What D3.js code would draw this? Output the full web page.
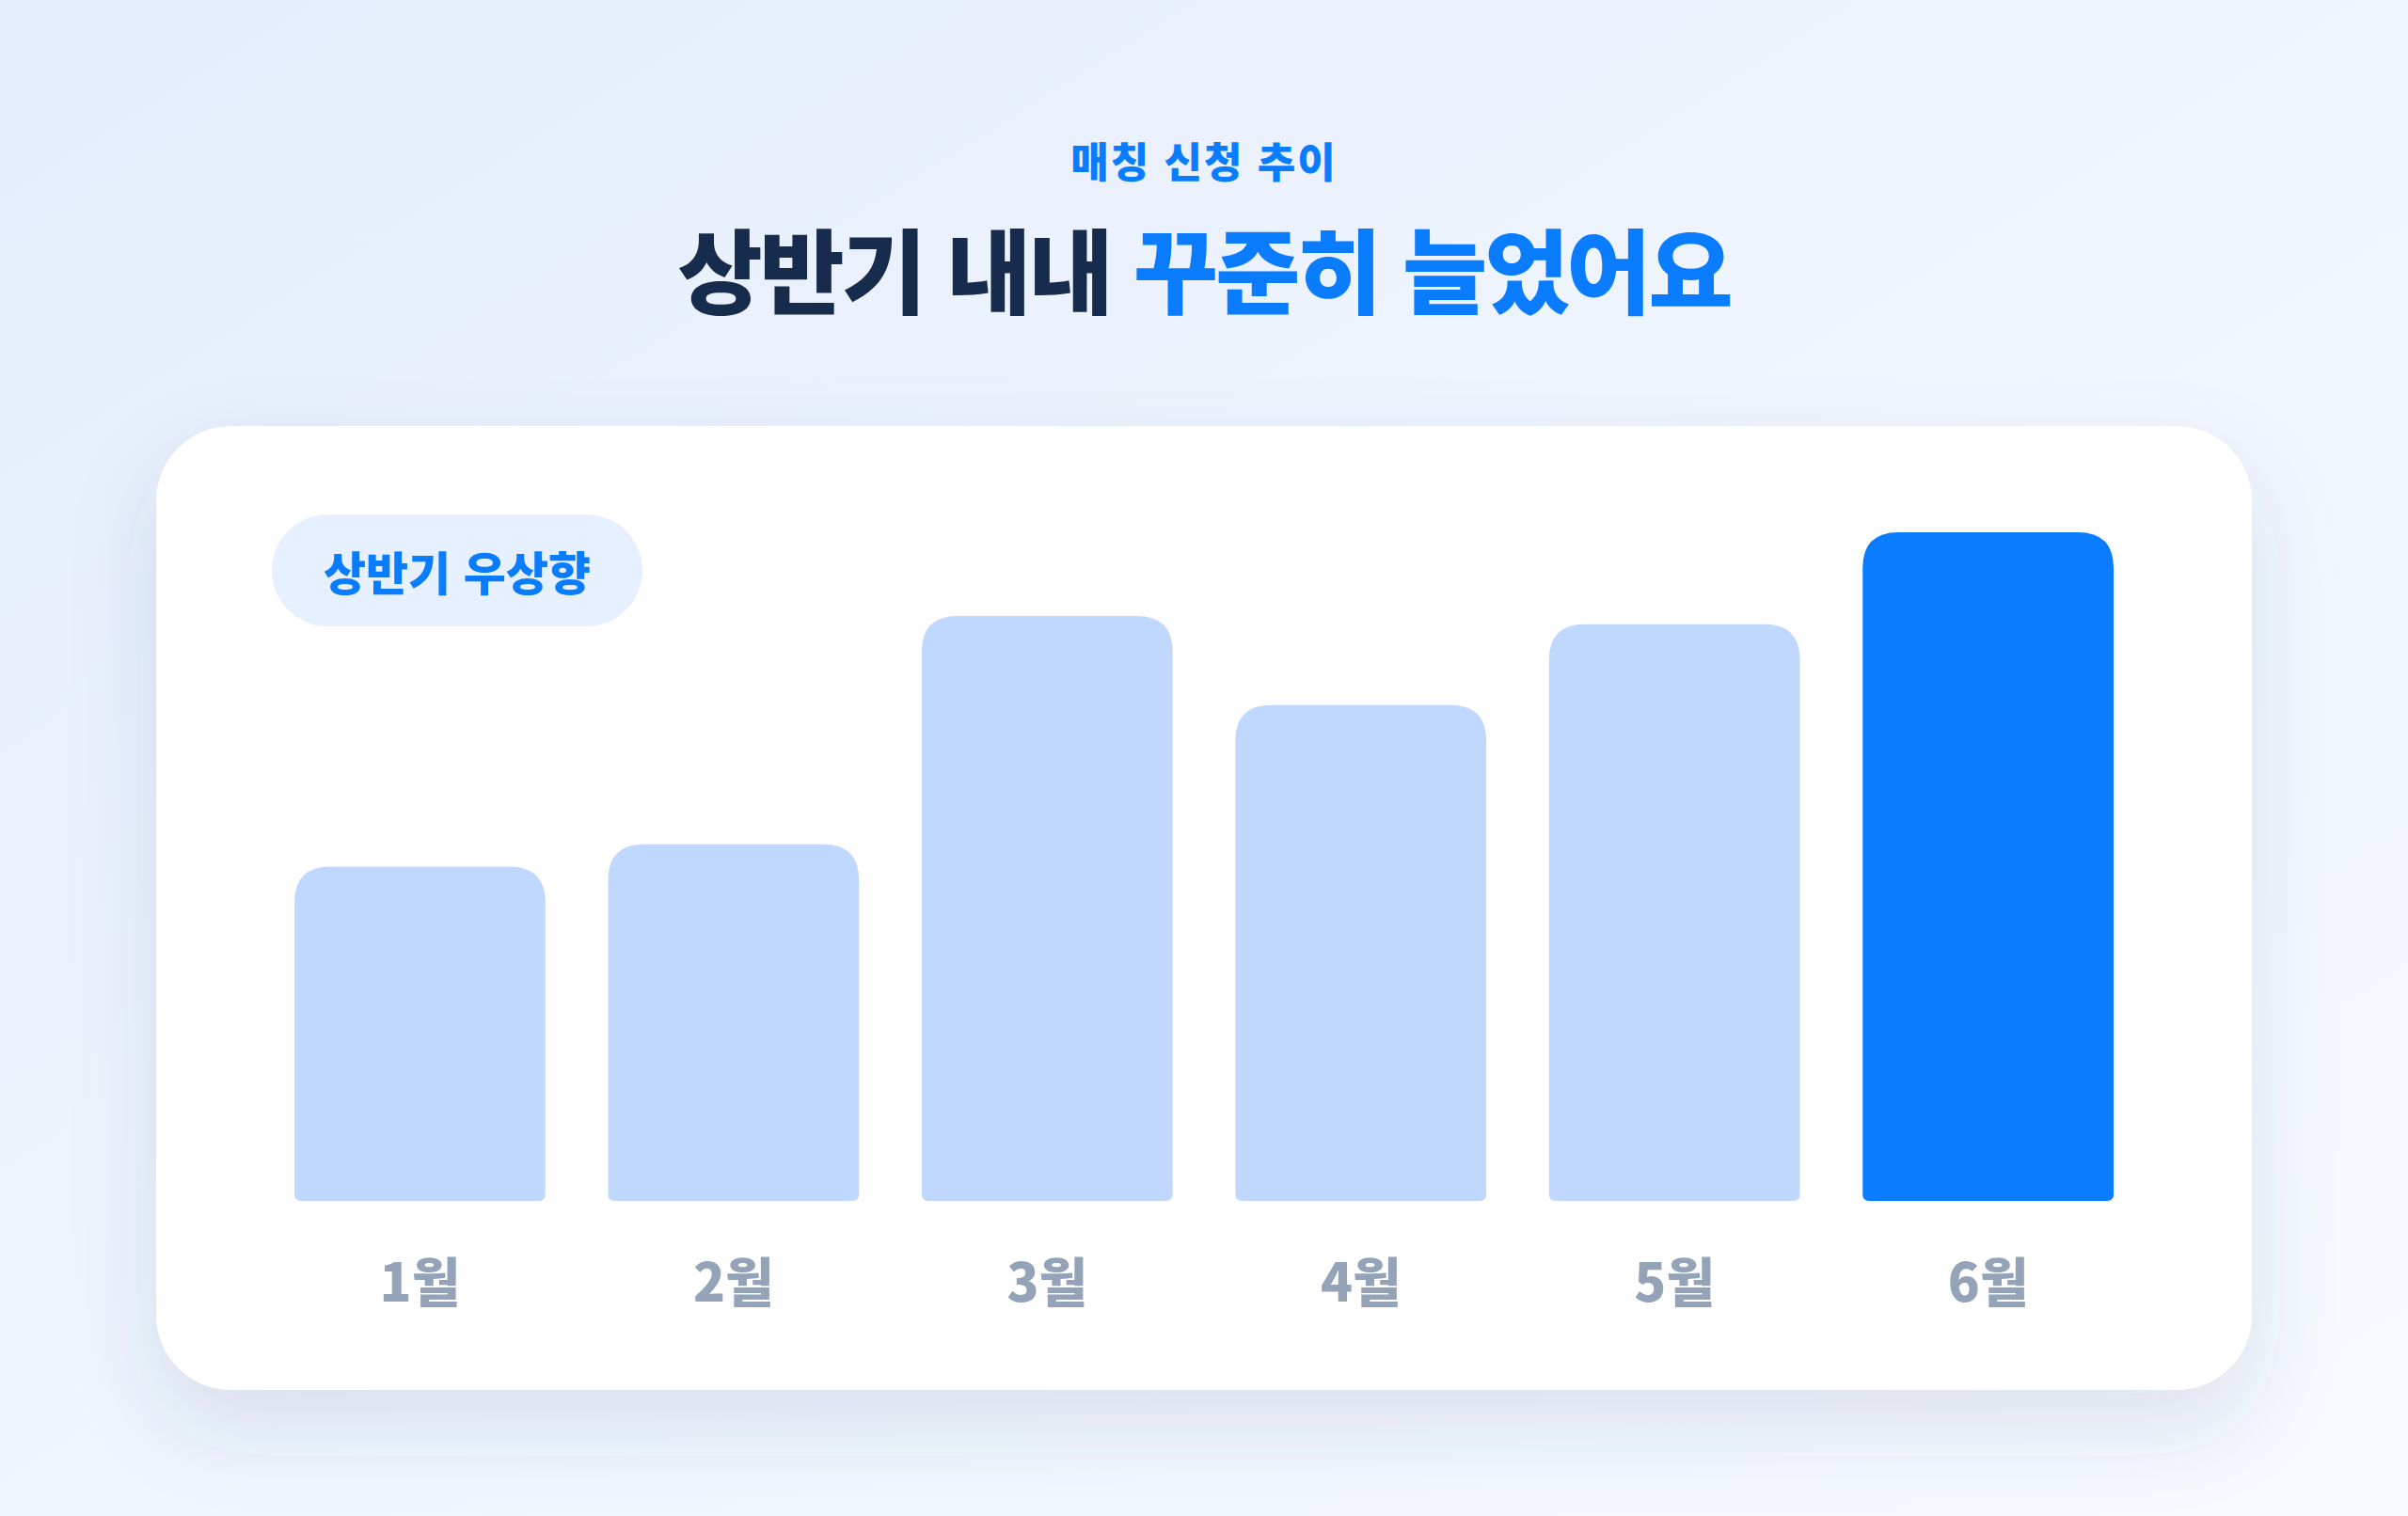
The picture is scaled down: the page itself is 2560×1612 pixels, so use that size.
<!DOCTYPE html>
<html lang="ko">
<head>
<meta charset="utf-8">
<script src="https://cdn.jsdelivr.net/npm/d3@7"></script>
<style>
  html, body { margin: 0; padding: 0; background: #f2f6fd; }
  svg { display: block; font-family: "Noto Sans CJK KR", "Noto Sans", sans-serif; }
</style>
</head>
<body>
<div id="chart"></div>
<script>
// data
const months = ["1월", "2월", "3월", "4월", "5월", "6월"]
const applications = [120, 128, 210, 178, 207, 240]
const highlightMonth = "6월"
const eyebrow = "매칭 신청 추이"
const titleDark = "상반기 내내 "
const titleBlue = "꾸준히 늘었어요"
const badgeText = "상반기 우상향"

const W = 2560, H = 1612
const card = {x: 166, y: 453, w: 2228, h: 1025, r: 80}
const plot = {left: 313, right: 2247, top: 566, bottom: 1277}

const svg = d3.select("#chart").append("svg")
  .attr("width", W)
  .attr("height", H)

const defs = svg.append("defs")

// background gradient
const bg = defs.append("linearGradient")
  .attr("id", "bg")
  .attr("x1", "0").attr("y1", "0").attr("x2", "1").attr("y2", "1")
bg.append("stop").attr("offset", "0").attr("stop-color", "#e4edfc")
bg.append("stop").attr("offset", "0.55").attr("stop-color", "#f1f6fe")
bg.append("stop").attr("offset", "1").attr("stop-color", "#f7fafe")

const shadow = defs.append("filter")
  .attr("id", "shadow")
  .attr("x", "-20%").attr("y", "-20%").attr("width", "140%").attr("height", "150%")
shadow.append("feDropShadow")
  .attr("dx", 0).attr("dy", 40)
  .attr("stdDeviation", 45)
  .attr("flood-color", "#2a4a80")
  .attr("flood-opacity", 0.13)

svg.append("rect")
  .attr("width", W).attr("height", H)
  .attr("fill", "url(#bg)")

// headings
svg.append("text")
  .attr("x", W / 2).attr("y", 170)
  .attr("text-anchor", "middle")
  .attr("dominant-baseline", "central")
  .attr("font-size", 44)
  .attr("font-weight", 800)
  .attr("letter-spacing", 2)
  .attr("fill", "#0a7cff")
  .text(eyebrow)

const title = svg.append("text")
  .attr("x", W / 2).attr("y", 283)
  .attr("text-anchor", "middle")
  .attr("dominant-baseline", "central")
  .attr("font-size", 98)
  .attr("font-weight", 900)
  .attr("letter-spacing", -3)
title.append("tspan").attr("fill", "#172b4d").text(titleDark)
title.append("tspan").attr("fill", "#0a7cff").text(titleBlue)

// card
svg.append("rect")
  .attr("x", card.x).attr("y", card.y)
  .attr("width", card.w).attr("height", card.h)
  .attr("rx", card.r)
  .attr("fill", "#ffffff")
  .attr("filter", "url(#shadow)")

// badge
const badge = svg.append("g")
badge.append("rect")
  .attr("x", 289).attr("y", 547)
  .attr("width", 394).attr("height", 119)
  .attr("rx", 59.5)
  .attr("fill", "#e6f0fe")
badge.append("text")
  .attr("x", 289 + 197).attr("y", 606)
  .attr("text-anchor", "middle")
  .attr("dominant-baseline", "central")
  .attr("font-size", 49)
  .attr("font-weight", 900)
  .attr("fill", "#0a7cff")
  .text(badgeText)

// scales
const x = d3.scaleBand()
  .domain(months)
  .range([plot.left, plot.right])
  .paddingInner(0.2)
  .paddingOuter(0)

const y = d3.scaleLinear()
  .domain([0, d3.max(applications)])
  .range([plot.bottom, plot.top])

// rounded top, slightly rounded bottom
function barPath(x0, y0, w, h, rt, rb) {
  return `M${x0},${y0 + rt}` +
    `Q${x0},${y0} ${x0 + rt},${y0}` +
    `H${x0 + w - rt}` +
    `Q${x0 + w},${y0} ${x0 + w},${y0 + rt}` +
    `V${y0 + h - rb}` +
    `Q${x0 + w},${y0 + h} ${x0 + w - rb},${y0 + h}` +
    `H${x0 + rb}` +
    `Q${x0},${y0 + h} ${x0},${y0 + h - rb}Z`
}

const rows = months.map((m, i) => ({month: m, value: applications[i]}))

svg.append("g")
  .selectAll("path")
  .data(rows)
  .enter().append("path")
    .attr("d", d => barPath(x(d.month), y(d.value), x.bandwidth(), y(0) - y(d.value), 38, 7))
    .attr("fill", d => d.month === highlightMonth ? "#0a7cff" : "#c0d8fe")

// month labels
const axis = svg.append("g")
  .attr("transform", `translate(0,${plot.bottom})`)
  .call(d3.axisBottom(x).tickSize(0))
axis.select(".domain").remove()
axis.selectAll("text")
  .attr("y", 82)
  .attr("dy", null)
  .attr("dominant-baseline", "central")
  .attr("font-family", "\"Noto Sans CJK KR\", sans-serif")
  .attr("font-size", 56)
  .attr("font-weight", 900)
  .attr("fill", "#95a3b8")
</script>
</body>
</html>
